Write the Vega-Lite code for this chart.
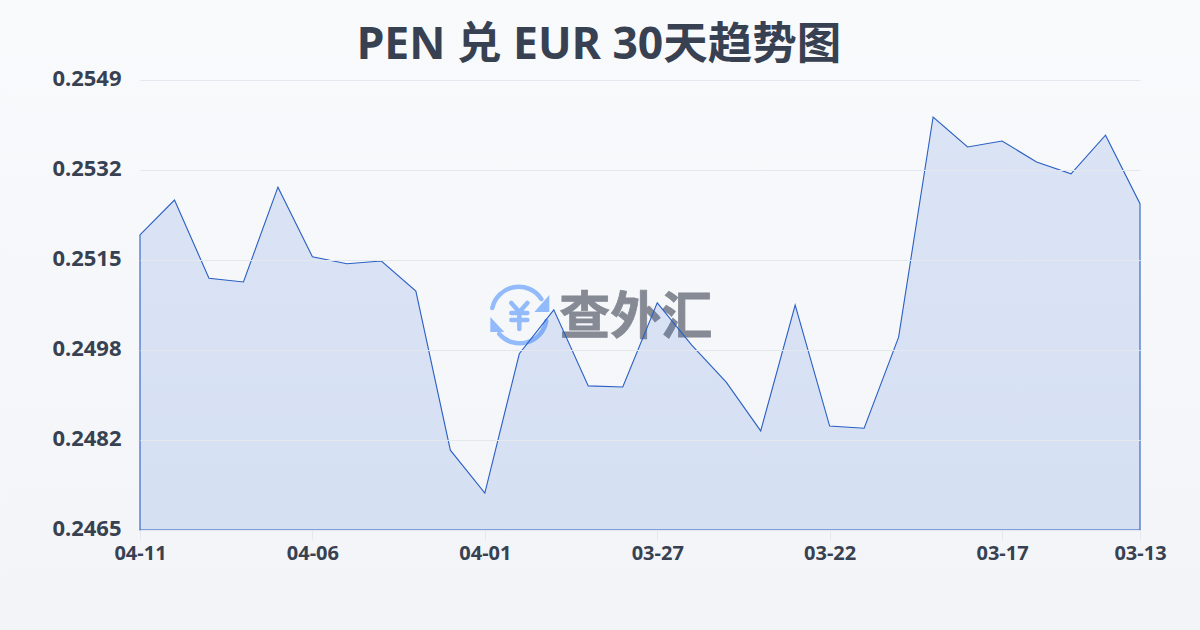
{
"$schema":"https://vega.github.io/schema/vega-lite/v6.json",
"width":1000,"height":450,
"autosize":{"type":"none"},
"padding":{"left":140,"top":80,"right":60,"bottom":100},
"background":"#f6f7fa",
"view":{"stroke":null},
"title":{"text":"PEN 兑 EUR 30天趋势图","anchor":"middle","frame":"group","dx":-41,"offset":-103,"baseline":"alphabetic","font":"Noto Sans, Noto Sans CJK SC","fontSize":44.5,"fontWeight":"bold","color":"#374151","zindex":1},
"datasets":{
"rates":[
{"date":"04-11","rate":0.25199},{"date":"04-10","rate":0.25264},{"date":"04-09","rate":0.25118},{"date":"04-08","rate":0.25111},{"date":"04-07","rate":0.25288},{"date":"04-06","rate":0.25158},{"date":"04-05","rate":0.25145},{"date":"04-04","rate":0.25150},{"date":"04-03","rate":0.25094},{"date":"04-02","rate":0.24797},{"date":"04-01","rate":0.24717},{"date":"03-31","rate":0.24977},{"date":"03-30","rate":0.25059},{"date":"03-29","rate":0.24917},{"date":"03-28","rate":0.24915},{"date":"03-27","rate":0.25072},{"date":"03-26","rate":0.24993},{"date":"03-25","rate":0.24924},{"date":"03-24","rate":0.24833},{"date":"03-23","rate":0.25068},{"date":"03-22","rate":0.24842},{"date":"03-21","rate":0.24838},{"date":"03-20","rate":0.25008},{"date":"03-19","rate":0.25419},{"date":"03-18","rate":0.25363},{"date":"03-17","rate":0.25374},{"date":"03-16","rate":0.25335},{"date":"03-15","rate":0.25313},{"date":"03-14","rate":0.25385},{"date":"03-13","rate":0.25257}
]},
"encoding":{
"x":{"field":"date","type":"ordinal","sort":null,
"scale":{"type":"point","padding":0,"range":[0.001,999.999],"domain":["04-11","04-10","04-09","04-08","04-07","04-06","04-05","04-04","04-03","04-02","04-01","03-31","03-30","03-29","03-28","03-27","03-26","03-25","03-24","03-23","03-22","03-21","03-20","03-19","03-18","03-17","03-16","03-15","03-14","03-13"]},
"axis":{"title":null,"values":["04-11","04-06","04-01","03-27","03-22","03-17","03-13"],"labelAngle":0,"domain":false,"grid":false,"ticks":true,"tickSize":10,"tickColor":"#e5e8ec","labelFont":"Noto Sans","labelFontSize":20,"labelFontWeight":"bold","labelColor":"#374151","labelPadding":3,"labelOverlap":false,"zindex":1}},
"y":{"field":"rate","type":"quantitative",
"scale":{"domain":[0.24648,0.25488],"nice":false,"zero":false},
"axis":{"title":null,"values":[0.24648,0.24816,0.24984,0.25152,0.2532,0.25488],"format":".4f","domain":false,"ticks":false,"grid":true,"gridColor":"#e4e7eb","gridWidth":1,"labelFont":"Noto Sans","labelFontSize":22,"labelFontWeight":"bold","labelColor":"#374151","labelPadding":19,"labelOffset":-1.5,"zindex":1}}
},
"layer":[
{"data":{"values":[{"date":"03-31","rate":0.25068}]},
 "mark":{"type":"point","filled":true,"opacity":1,"size":4,"shape":"M-519,-305H681V325H-519Z","strokeWidth":0,
 "fill":{"gradient":"linear","x1":0,"y1":0,"x2":0,"y2":1,"stops":[{"offset":0,"color":"#f9fafc"},{"offset":1,"color":"#f2f4f7"}]}}},
{"data":{"values":[{"date":"03-31","rate":0.25068}]},
 "mark":{"type":"point","filled":false,"opacity":1,"size":4,"stroke":"#93bbfb","strokeWidth":4.5,"strokeCap":"round","strokeJoin":"round",
 "yOffset":10,
 "shape":"M-27,-7A27,27 0 0 1 22,-16M27,6A27,27 0 0 1 -20,19M-8,-12L0,-3L8,-12M-8,-2H8M-8,5H8M0,-3V14"}},
{"data":{"values":[{"date":"03-31","rate":0.25068}]},
 "mark":{"type":"point","filled":true,"opacity":1,"size":4,"fill":"#93bbfb","strokeWidth":0,"yOffset":10,
 "shape":"M30,-20V-3H15ZM-29,2V17H-15Z"}},
{"data":{"values":[{"date":"03-31","rate":0.25068}]},
 "mark":{"type":"text","text":"查外汇","align":"left","baseline":"middle","dx":40,"dy":14,"font":"Noto Sans CJK SC","fontSize":51,"fontWeight":"bold","fill":"#858a94","stroke":"#858a94","strokeWidth":0.8}},
{"data":{"name":"rates"},
 "mark":{"type":"area","line":false,"fill":"#2f66d6","fillOpacity":0.145,"stroke":"#2a5fc4","strokeWidth":1.1,"interpolate":"linear"},
 "encoding":{"y2":{"datum":0.24648}}}
]
}
